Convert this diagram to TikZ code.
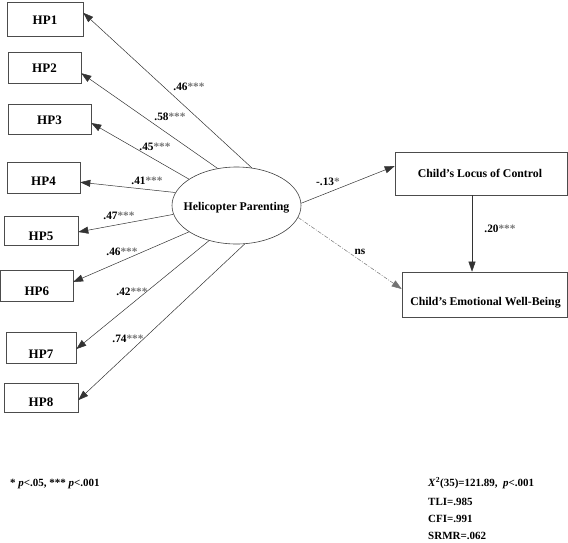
\documentclass[tikz,border=0pt]{standalone}
\usepackage{fontspec}
\setmainfont{Liberation Serif}
\usetikzlibrary{arrows.meta,calc,shapes.geometric}
\begin{document}
\begin{tikzpicture}[x=1pt,y=-1pt,
  hpbox/.style={draw=black!70,line width=0.6pt,inner sep=0pt},
  txt/.style={inner sep=0pt,font=\fontsize{11.8}{12}\selectfont\bfseries},
  hpt/.style={inner sep=0pt,font=\fontsize{13}{13}\selectfont\bfseries},
  lbl/.style={inner sep=0pt,font=\fontsize{11.3}{12}\selectfont\bfseries},
  note/.style={inner sep=0pt,anchor=west,font=\fontsize{11}{12}\selectfont\bfseries},
  conn/.style={draw=black!80,line width=0.5pt,-{Triangle[length=10pt,width=7pt]}},
  st/.style={text=black!55}]
\useasboundingbox (0,0) rectangle (568,542);
% HP boxes
\node[hpbox,minimum width=76pt,minimum height=34pt] (hp1) at (45,19) {};
\node[hpbox,minimum width=73pt,minimum height=31pt] (hp2) at (44.5,67.5) {};
\node[hpbox,minimum width=83pt,minimum height=30pt] (hp3) at (49.5,119) {};
\node[hpbox,minimum width=73pt,minimum height=31pt] (hp4) at (43.5,177.5) {};
\node[hpbox,minimum width=74pt,minimum height=29pt] (hp5) at (41,230.5) {};
\node[hpbox,minimum width=72pt,minimum height=31pt] (hp6) at (36.8,285.5) {};
\node[hpbox,minimum width=70pt,minimum height=31pt] (hp7) at (41,347.5) {};
\node[hpbox,minimum width=74pt,minimum height=29pt] (hp8) at (41,397.5) {};
\node[hpt] (t1) at ($(hp1)+(0,1.5)$) {HP1};
\node[hpt] (t2) at ($(hp2)+(0,1)$) {HP2};
\node[hpt] (t3) at ($(hp3)+(0,1)$) {HP3};
\node[hpt] (t4) at ($(hp4)+(0,4)$) {HP4};
\node[hpt] (t5) at ($(hp5)+(0,6)$) {HP5};
\node[hpt] (t6) at ($(hp6)+(0,6)$) {HP6};
\node[hpt] (t7) at ($(hp7)+(0,6.5)$) {HP7};
\node[hpt] (t8) at ($(hp8)+(0,5)$) {HP8};
% ellipse
\node[ellipse,draw=black!75,line width=0.6pt,minimum width=129pt,minimum height=77pt,inner sep=0pt] (hp) at (236.5,205.5) {};
\node[txt] (hptx) at ($(hp)+(0,2.5)$) {Helicopter Parenting};
% right boxes
\node[hpbox,minimum width=172pt,minimum height=43pt] (loc) at (481,173.5) {};
\node[txt] (loct) at ($(loc)+(-1,0)$) {Child’s Locus of Control};
\node[hpbox,minimum width=165pt,minimum height=45pt] (emo) at (484.5,294.5) {};
\node[txt] (emot) at ($(emo)+(1,8.5)$) {Child’s Emotional Well-Being};
% connectors
\draw[conn] (hp.68)  -- ($(hp1.north east)!0.32!(hp1.south east)$);
\draw[conn] (hp.117) -- ($(hp2.north east)!0.68!(hp2.south east)$);
\draw[conn] (hp.151) -- ($(hp3.north east)!0.63!(hp3.south east)$);
\draw[conn] (hp.168) -- ($(hp4.north east)!0.65!(hp4.south east)$);
\draw[conn] (hp.188) -- ($(hp5.north east)!0.55!(hp5.south east)$);
\draw[conn] (hp.209) -- ($(hp6.north east)!0.39!(hp6.south east)$);
\draw[conn] (hp.232) -- ($(hp7.north east)!0.55!(hp7.south east)$);
\draw[conn] (hp.282) -- ($(hp8.north east)!0.59!(hp8.south east)$);
\draw[conn] (hp.2) -- ($(loc.north west)!0.33!(loc.south west)$);
\draw[conn,draw=black!55,dash pattern=on 4pt off 1.5pt on 1pt off 1.5pt] (hp.349) -- ($(emo.north west)!0.38!(emo.south west)$);
\coordinate (vs) at ($(loc.south west)!0.448!(loc.south east)$);
\draw[conn] (vs) -- (vs |- emo.north);
% path labels
\node[lbl] (l1) at (189,87) {.46\textcolor{black!55}{***}};
\node[lbl] (l2) at (170,117) {.58\textcolor{black!55}{***}};
\node[lbl] (l3) at (155,147) {.45\textcolor{black!55}{***}};
\node[lbl] (l4) at (147,181) {.41\textcolor{black!55}{***}};
\node[lbl] (l5) at (119,216) {.47\textcolor{black!55}{***}};
\node[lbl] (l6) at (122,252) {.46\textcolor{black!55}{***}};
\node[lbl] (l7) at (132,292) {.42\textcolor{black!55}{***}};
\node[lbl] (l8) at (128,339) {.74\textcolor{black!55}{***}};
\node[lbl] (l9) at (328,182) {-.13\textcolor{black!55}{*}};
\node[lbl] (l10) at (360,252) {ns};
\node[lbl] (l11) at (500,229) {.20\textcolor{black!55}{***}};
% notes
\node[note] (n1) at (10,484) {* \textit{p}<.05, *** \textit{p}<.001};
\node[note] (n2) at (428,483.5) {\textit{X}\textsuperscript{2}(35)=121.89,\ \ \textit{p}<.001};
\node[note] (n3) at (428,501.5) {TLI=.985};
\node[note] (n4) at (428,519) {CFI=.991};
\node[note] (n5) at (428,536) {SRMR=.062};
\end{tikzpicture}
\end{document}
